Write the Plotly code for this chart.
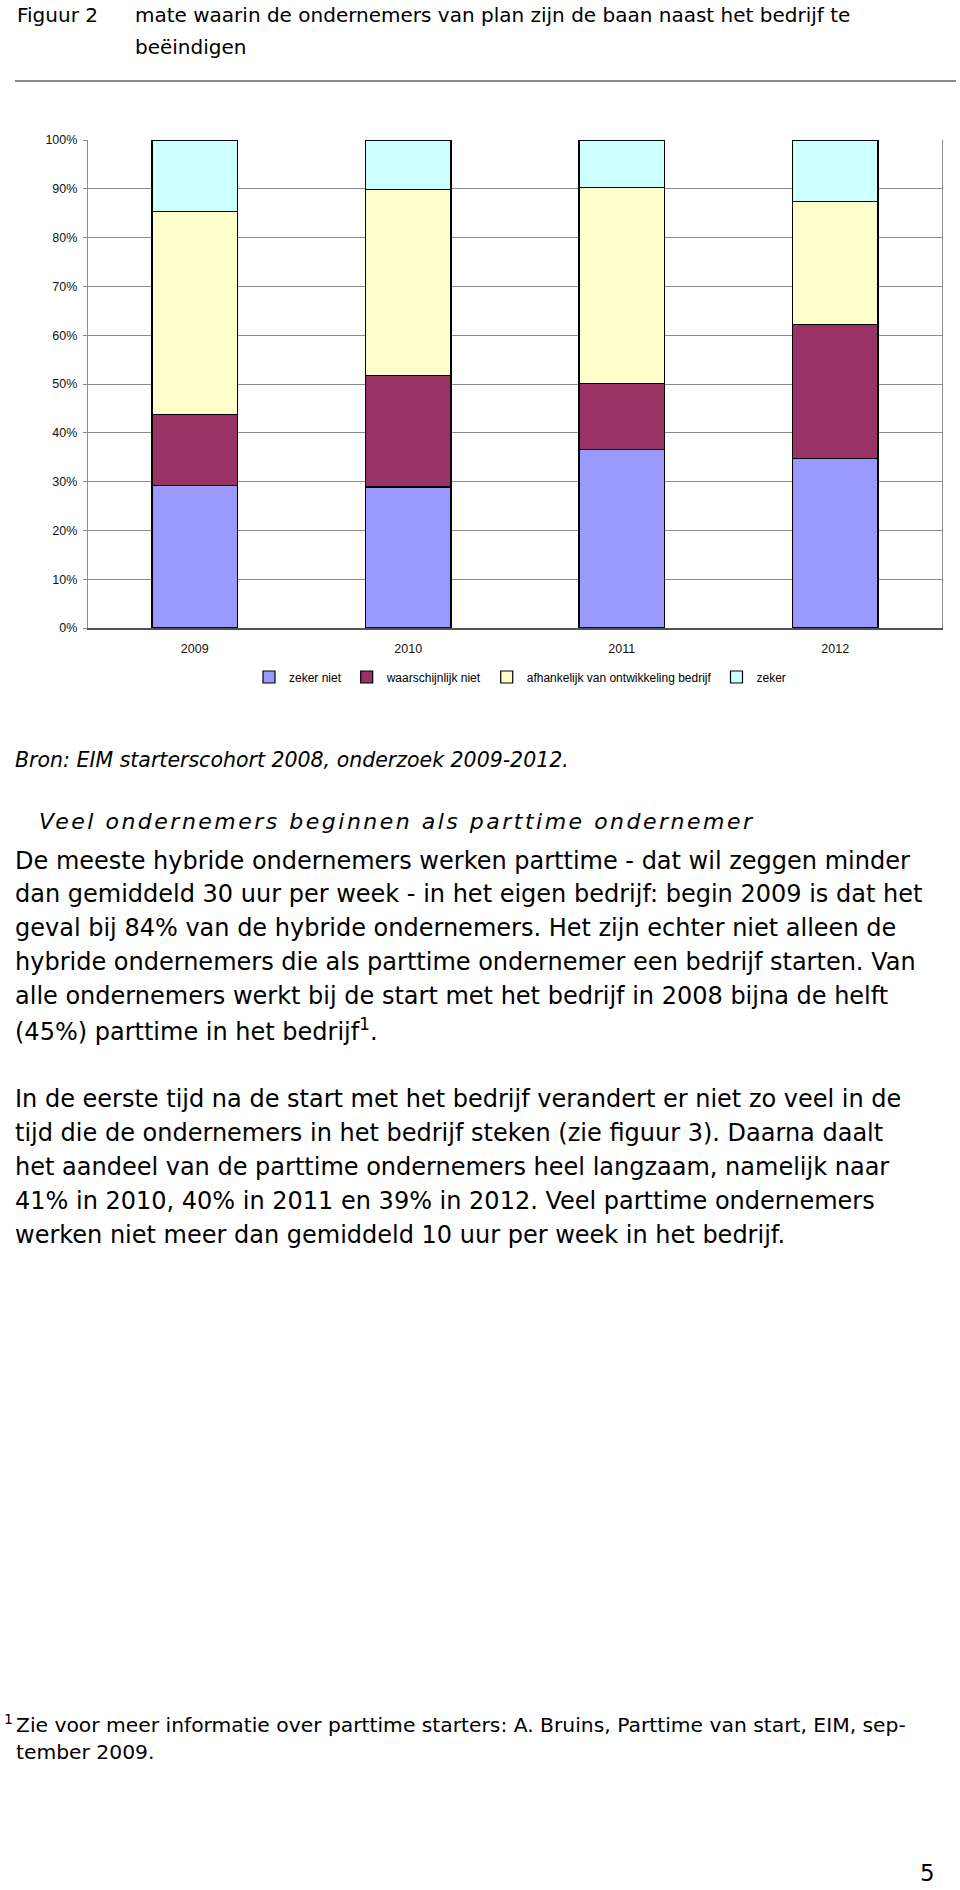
import plotly.graph_objects as go

# chart data (shares per survey year)
years = ["2009", "2010", "2011", "2012"]
zeker_niet = [0.292, 0.289, 0.366, 0.348]
waarschijnlijk_niet = [0.146, 0.229, 0.135, 0.274]
afhankelijk = [0.416, 0.381, 0.401, 0.252]
zeker = [0.146, 0.101, 0.098, 0.126]

series_names = ["zeker niet", "waarschijnlijk niet",
                "afhankelijk van ontwikkeling bedrijf", "zeker"]
series_values = [zeker_niet, waarschijnlijk_niet, afhankelijk, zeker]
series_colors = ["#9999FF", "#993366", "#FFFFCC", "#CCFFFF"]

# page text
fig_label = "Figuur 2"
title_lines = ["mate waarin de ondernemers van plan zijn de baan naast het bedrijf te",
               "beëindigen"]
source_text = "Bron: EIM starterscohort 2008, onderzoek 2009-2012."
heading_text = "Veel ondernemers beginnen als parttime ondernemer"
para1 = [
    "De meeste hybride ondernemers werken parttime - dat wil zeggen minder",
    "dan gemiddeld 30 uur per week - in het eigen bedrijf: begin 2009 is dat het",
    "geval bij 84% van de hybride ondernemers. Het zijn echter niet alleen de",
    "hybride ondernemers die als parttime ondernemer een bedrijf starten. Van",
    "alle ondernemers werkt bij de start met het bedrijf in 2008 bijna de helft",
    "(45%) parttime in het bedrijf<sup>1</sup>.",
]
para2 = [
    "In de eerste tijd na de start met het bedrijf verandert er niet zo veel in de",
    "tijd die de ondernemers in het bedrijf steken (zie figuur 3). Daarna daalt",
    "het aandeel van de parttime ondernemers heel langzaam, namelijk naar",
    "41% in 2010, 40% in 2011 en 39% in 2012. Veel parttime ondernemers",
    "werken niet meer dan gemiddeld 10 uur per week in het bedrijf.",
]
footnote_lines = [
    "Zie voor meer informatie over parttime starters: A. Bruins, Parttime van start, EIM, sep-",
    "tember 2009.",
]
page_number = "5"

W, H = 960, 1890
L, R, T, B = 88, 18, 140, 1262
PW = W - L - R
PH = H - T - B
BODY_FONT = "DejaVu Sans, Verdana, sans-serif"
CHART_FONT = "Liberation Sans, Arial, sans-serif"


def px(x):
    return (x - L) / PW


def py(y):
    return (H - B - y) / PH


fig = go.Figure()
for name, vals, col in zip(series_names, series_values, series_colors):
    fig.add_trace(go.Bar(x=years, y=vals, name=name, width=0.4,
                         marker=dict(color=col, line=dict(color="#000000", width=1.2))))

annotations = []


def add_text(text, x, y, size, italic=False, anchor="left"):
    if italic:
        text = "<i>" + text + "</i>"
    annotations.append(dict(text=text, x=px(x), y=py(y), xref="paper", yref="paper",
                            xanchor=anchor, yanchor="middle", showarrow=False,
                            font=dict(family=BODY_FONT, size=size, color="#000000")))


add_text(fig_label, 15, 15, 20)
for i, line in enumerate(title_lines):
    add_text(line, 133, 15 + i * 31.5, 20)
add_text(source_text, 13, 760, 20.5, italic=True)
add_text('<span style="letter-spacing:2.5px">' + heading_text + '</span>', 37, 821, 22, italic=True)
for i, line in enumerate(para1):
    add_text(line, 13, 860.5 + i * 33.8, 24)
for i, line in enumerate(para2):
    add_text(line, 13, 1098.5 + i * 34, 24)
add_text("1", 2, 1719, 14)
for i, line in enumerate(footnote_lines):
    add_text(line, 14, 1725 + i * 27, 20.3)
add_text(page_number, 937, 1873, 23, anchor="right")

fig.update_layout(
    width=W, height=H,
    margin=dict(l=L, r=R, t=T, b=B, pad=0),
    paper_bgcolor="white", plot_bgcolor="white",
    barmode="stack",
    font=dict(family=CHART_FONT, size=12, color="#000000"),
    showlegend=True,
    legend=dict(orientation="h", x=px(520), y=py(677), xanchor="center", yanchor="middle",
                font=dict(family=CHART_FONT, size=12, color="#000000"),
                itemwidth=30, traceorder="normal", bgcolor="rgba(0,0,0,0)"),
    annotations=annotations,
    shapes=[dict(type="line", xref="paper", yref="paper", x0=px(15), x1=px(956),
                 y0=py(81), y1=py(81), line=dict(color="#8a8a8a", width=2))],
)
fig.update_yaxes(range=[0, 1], dtick=0.1, tickformat=".0%", showgrid=True,
                 gridcolor="#8c8c8c", gridwidth=1, zeroline=False,
                 showline=True, linecolor="#8c8c8c", linewidth=1.2, mirror=True,
                 ticks="outside", ticklen=4, tickcolor="#8c8c8c",
                 ticklabelstandoff=3, tickfont=dict(size=12.5, color="#111111"))
fig.update_xaxes(showline=True, linecolor="#555555", linewidth=1.5, showgrid=False,
                 ticks="", ticklabelstandoff=8, tickfont=dict(size=12.5, color="#111111"))

# page has no body margin in the reference layout
fig.write_html("out.html", config={"displayModeBar": False},
               post_script="document.body.style.margin='0';document.body.style.overflow='hidden';")
